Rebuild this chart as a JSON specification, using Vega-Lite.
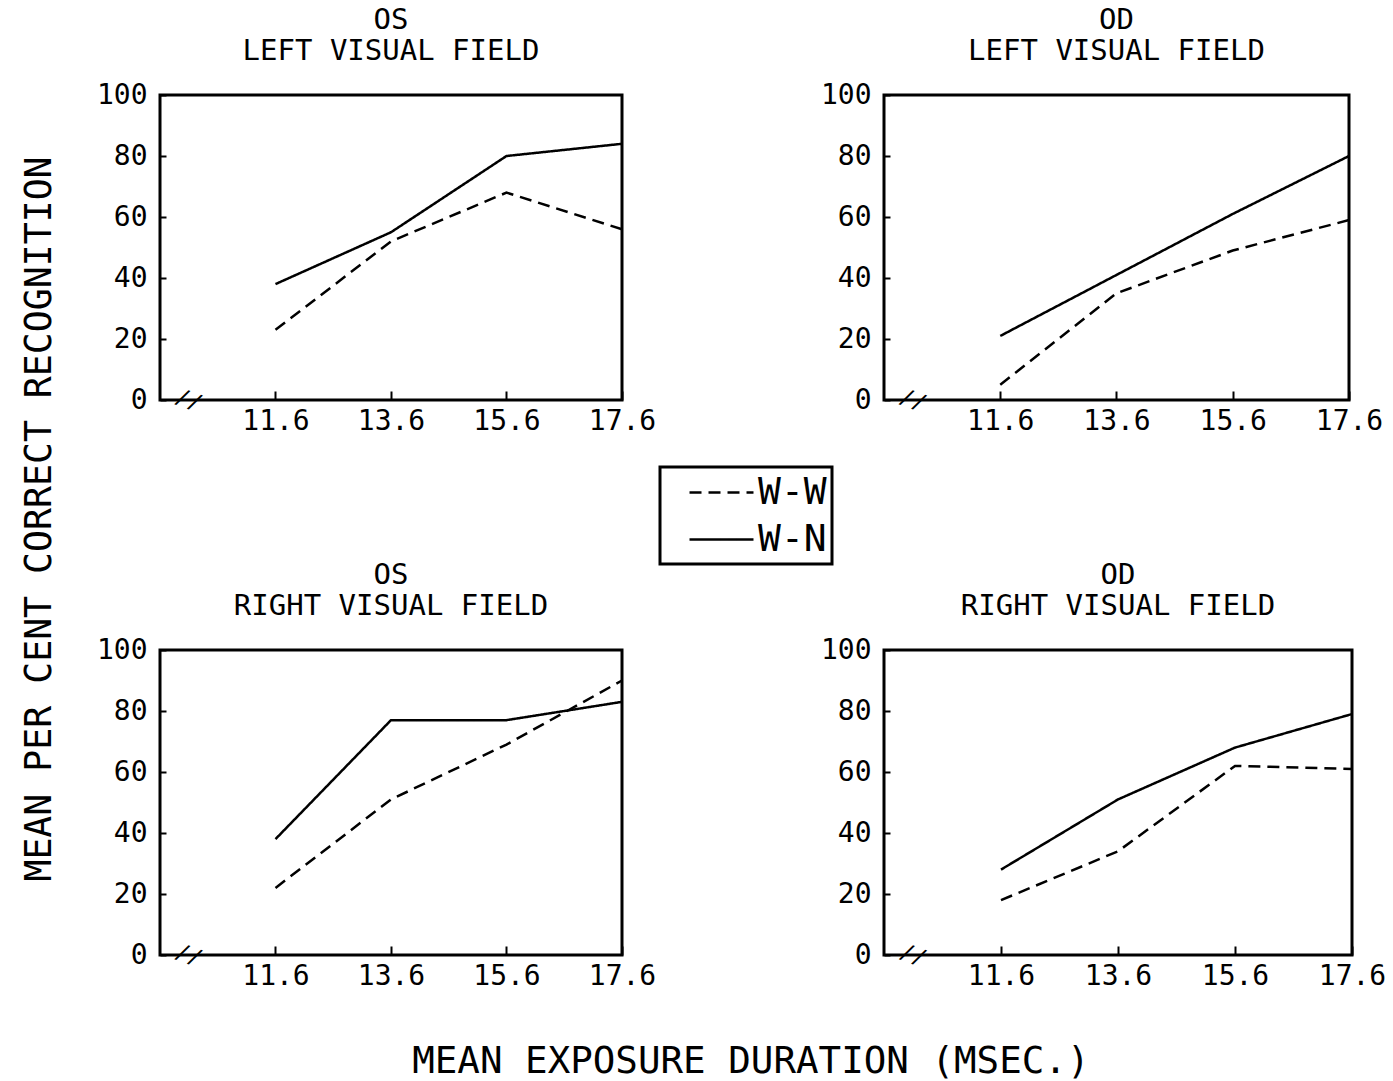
{
  "$schema": "https://vega.github.io/schema/vega-lite/v6.json",
  "background": "white",
  "padding": {"left": 22, "top": 4, "right": 5, "bottom": 0},
  "datasets": {
    "d": [
      {"panel": "OS LEFT", "exposure": 11.6, "condition": "W-N", "pct": 38},
      {"panel": "OS LEFT", "exposure": 13.6, "condition": "W-N", "pct": 55},
      {"panel": "OS LEFT", "exposure": 15.6, "condition": "W-N", "pct": 80},
      {"panel": "OS LEFT", "exposure": 17.6, "condition": "W-N", "pct": 84},
      {"panel": "OS LEFT", "exposure": 11.6, "condition": "W-W", "pct": 23},
      {"panel": "OS LEFT", "exposure": 13.6, "condition": "W-W", "pct": 52},
      {"panel": "OS LEFT", "exposure": 15.6, "condition": "W-W", "pct": 68},
      {"panel": "OS LEFT", "exposure": 17.6, "condition": "W-W", "pct": 56},
      {"panel": "OD LEFT", "exposure": 11.6, "condition": "W-N", "pct": 21},
      {"panel": "OD LEFT", "exposure": 13.6, "condition": "W-N", "pct": 41},
      {"panel": "OD LEFT", "exposure": 15.6, "condition": "W-N", "pct": 61},
      {"panel": "OD LEFT", "exposure": 17.6, "condition": "W-N", "pct": 80},
      {"panel": "OD LEFT", "exposure": 11.6, "condition": "W-W", "pct": 5},
      {"panel": "OD LEFT", "exposure": 13.6, "condition": "W-W", "pct": 35},
      {"panel": "OD LEFT", "exposure": 15.6, "condition": "W-W", "pct": 49},
      {"panel": "OD LEFT", "exposure": 17.6, "condition": "W-W", "pct": 59},
      {"panel": "OS RIGHT", "exposure": 11.6, "condition": "W-N", "pct": 38},
      {"panel": "OS RIGHT", "exposure": 13.6, "condition": "W-N", "pct": 77},
      {"panel": "OS RIGHT", "exposure": 15.6, "condition": "W-N", "pct": 77},
      {"panel": "OS RIGHT", "exposure": 17.6, "condition": "W-N", "pct": 83},
      {"panel": "OS RIGHT", "exposure": 11.6, "condition": "W-W", "pct": 22},
      {"panel": "OS RIGHT", "exposure": 13.6, "condition": "W-W", "pct": 51},
      {"panel": "OS RIGHT", "exposure": 15.6, "condition": "W-W", "pct": 69},
      {"panel": "OS RIGHT", "exposure": 17.6, "condition": "W-W", "pct": 90},
      {"panel": "OD RIGHT", "exposure": 11.6, "condition": "W-N", "pct": 28},
      {"panel": "OD RIGHT", "exposure": 13.6, "condition": "W-N", "pct": 51},
      {"panel": "OD RIGHT", "exposure": 15.6, "condition": "W-N", "pct": 68},
      {"panel": "OD RIGHT", "exposure": 17.6, "condition": "W-N", "pct": 79},
      {"panel": "OD RIGHT", "exposure": 11.6, "condition": "W-W", "pct": 18},
      {"panel": "OD RIGHT", "exposure": 13.6, "condition": "W-W", "pct": 34},
      {"panel": "OD RIGHT", "exposure": 15.6, "condition": "W-W", "pct": 62},
      {"panel": "OD RIGHT", "exposure": 17.6, "condition": "W-W", "pct": 61}
    ],
    "brk": [{"exposure": 10.1, "pct": 0, "t": "//"}]
  },
  "title": {"text": "MEAN EXPOSURE DURATION (MSEC.)", "orient": "bottom", "anchor": "middle", "fontSize": 37.5, "font": "DejaVu Sans Mono", "fontWeight": "normal", "color": "black", "offset": 51, "dx": 46},
  "hconcat": [
    {
      "title": {"text": "MEAN PER CENT CORRECT RECOGNITION", "orient": "left", "anchor": "middle", "fontSize": 36.5, "font": "DejaVu Sans Mono", "fontWeight": "normal", "color": "black", "offset": 36, "dx": -21},
      "columns": 2,
      "spacing": {"row": 250, "column": 262},
      "bounds": "flush",
      "concat": [
        {
          "title": {"text": ["OS", "LEFT VISUAL FIELD"]},
          "width": 462, "height": 305,
          "layer": [
            {
              "data": {"name": "d"},
              "transform": [{"filter": "datum.panel == 'OS LEFT'"}],
              "mark": {"type": "line", "strokeWidth": 2.5, "color": "black"},
              "encoding": {
                "x": {"field": "exposure", "type": "quantitative", "scale": {"domain": [9.6, 17.6], "nice": false, "zero": false}, "axis": {"values": [11.6, 13.6, 15.6, 17.6], "format": ".1f"}},
                "y": {"field": "pct", "type": "quantitative", "scale": {"domain": [0, 100], "nice": false}, "axis": {"values": [0, 10, 20, 30, 40, 50, 60, 70, 80, 90, 100], "labelExpr": "datum.value % 20 == 0 ? datum.label : ''"}},
                "strokeDash": {"field": "condition", "type": "nominal", "scale": {"domain": ["W-W", "W-N"], "range": [[12, 7], [1, 0]]}}
              }
            },
            {
              "data": {"name": "brk"},
              "mark": {"type": "text", "fontSize": 22, "angle": 20, "color": "black", "font": "DejaVu Sans Mono"},
              "encoding": {"x": {"field": "exposure", "type": "quantitative"}, "y": {"field": "pct", "type": "quantitative"}, "text": {"field": "t"}}
            }
          ]
        },
        {
          "title": {"text": ["OD", "LEFT VISUAL FIELD"]},
          "width": 465, "height": 305,
          "layer": [
            {
              "data": {"name": "d"},
              "transform": [{"filter": "datum.panel == 'OD LEFT'"}],
              "mark": {"type": "line", "strokeWidth": 2.5, "color": "black"},
              "encoding": {
                "x": {"field": "exposure", "type": "quantitative", "scale": {"domain": [9.6, 17.6], "nice": false, "zero": false}, "axis": {"values": [11.6, 13.6, 15.6, 17.6], "format": ".1f"}},
                "y": {"field": "pct", "type": "quantitative", "scale": {"domain": [0, 100], "nice": false}, "axis": {"values": [0, 10, 20, 30, 40, 50, 60, 70, 80, 90, 100], "labelExpr": "datum.value % 20 == 0 ? datum.label : ''"}},
                "strokeDash": {"field": "condition", "type": "nominal", "scale": {"domain": ["W-W", "W-N"], "range": [[12, 7], [1, 0]]}}
              }
            },
            {
              "data": {"name": "brk"},
              "mark": {"type": "text", "fontSize": 22, "angle": 20, "color": "black", "font": "DejaVu Sans Mono"},
              "encoding": {"x": {"field": "exposure", "type": "quantitative"}, "y": {"field": "pct", "type": "quantitative"}, "text": {"field": "t"}}
            }
          ]
        },
        {
          "title": {"text": ["OS", "RIGHT VISUAL FIELD"]},
          "width": 462, "height": 305,
          "layer": [
            {
              "data": {"name": "d"},
              "transform": [{"filter": "datum.panel == 'OS RIGHT'"}],
              "mark": {"type": "line", "strokeWidth": 2.5, "color": "black"},
              "encoding": {
                "x": {"field": "exposure", "type": "quantitative", "scale": {"domain": [9.6, 17.6], "nice": false, "zero": false}, "axis": {"values": [11.6, 13.6, 15.6, 17.6], "format": ".1f"}},
                "y": {"field": "pct", "type": "quantitative", "scale": {"domain": [0, 100], "nice": false}, "axis": {"values": [0, 10, 20, 30, 40, 50, 60, 70, 80, 90, 100], "labelExpr": "datum.value % 20 == 0 ? datum.label : ''"}},
                "strokeDash": {"field": "condition", "type": "nominal", "scale": {"domain": ["W-W", "W-N"], "range": [[12, 7], [1, 0]]}}
              }
            },
            {
              "data": {"name": "brk"},
              "mark": {"type": "text", "fontSize": 22, "angle": 20, "color": "black", "font": "DejaVu Sans Mono"},
              "encoding": {"x": {"field": "exposure", "type": "quantitative"}, "y": {"field": "pct", "type": "quantitative"}, "text": {"field": "t"}}
            }
          ]
        },
        {
          "title": {"text": ["OD", "RIGHT VISUAL FIELD"]},
          "width": 468, "height": 305,
          "layer": [
            {
              "data": {"name": "d"},
              "transform": [{"filter": "datum.panel == 'OD RIGHT'"}],
              "mark": {"type": "line", "strokeWidth": 2.5, "color": "black"},
              "encoding": {
                "x": {"field": "exposure", "type": "quantitative", "scale": {"domain": [9.6, 17.6], "nice": false, "zero": false}, "axis": {"values": [11.6, 13.6, 15.6, 17.6], "format": ".1f"}},
                "y": {"field": "pct", "type": "quantitative", "scale": {"domain": [0, 100], "nice": false}, "axis": {"values": [0, 10, 20, 30, 40, 50, 60, 70, 80, 90, 100], "labelExpr": "datum.value % 20 == 0 ? datum.label : ''"}},
                "strokeDash": {"field": "condition", "type": "nominal", "scale": {"domain": ["W-W", "W-N"], "range": [[12, 7], [1, 0]]}}
              }
            },
            {
              "data": {"name": "brk"},
              "mark": {"type": "text", "fontSize": 22, "angle": 20, "color": "black", "font": "DejaVu Sans Mono"},
              "encoding": {"x": {"field": "exposure", "type": "quantitative"}, "y": {"field": "pct", "type": "quantitative"}, "text": {"field": "t"}}
            }
          ]
        }
      ]
    }
  ],
  "config": {
    "font": "DejaVu Sans Mono",
    "view": {"stroke": "black", "strokeWidth": 3},
    "title": {"font": "DejaVu Sans Mono", "fontSize": 29, "fontWeight": "normal", "color": "black", "lineHeight": 31, "anchor": "middle", "offset": 15},
    "axis": {"domain": false, "title": null, "labelFont": "DejaVu Sans Mono", "labelFontSize": 28, "labelColor": "black", "tickColor": "black", "tickWidth": 2, "grid": false, "labelFlush": false, "labelOverlap": false},
    "axisX": {"tickSize": -9, "labelPadding": 16},
    "axisY": {"tickSize": -6, "labelPadding": 19},
    "legend": {
      "orient": "none", "legendX": 500, "legendY": 372, "title": null,
      "strokeColor": "black", "strokeWidth": 3, "padding": 5, "symbolOffset": 36,
      "labelFont": "DejaVu Sans Mono", "labelFontSize": 38, "labelColor": "black", "labelOffset": 16,
      "symbolType": "M-1.684,0H1.684", "symbolSize": 1444, "symbolStrokeWidth": 2.5, "symbolStrokeColor": "black", "symbolFillColor": "transparent", "rowPadding": 7
    }
  }
}
